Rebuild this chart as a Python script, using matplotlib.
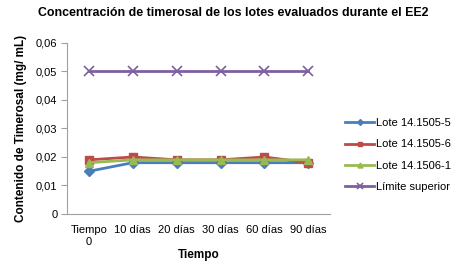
import matplotlib
matplotlib.use("Agg")
from matplotlib import pyplot as plt

plt.rcParams['font.family'] = ['Liberation Sans', 'DejaVu Sans']

categories = ["Tiempo\n0", "10 días", "20 días", "30 días", "60 días", "90 días"]
lote_5 = [0.015, 0.018, 0.018, 0.018, 0.018, 0.018]
lote_6 = [0.019, 0.020, 0.019, 0.019, 0.020, 0.018]
lote_1 = [0.018, 0.019, 0.019, 0.019, 0.019, 0.019]
limite = [0.05, 0.05, 0.05, 0.05, 0.05, 0.05]
y_ticks = [0, 0.01, 0.02, 0.03, 0.04, 0.05, 0.06]
y_labels = ["0", "0,01", "0,02", "0,03", "0,04", "0,05", "0,06"]

fig = plt.figure(figsize=(4.67, 2.67), dpi=100)
ax = fig.add_axes([0.1435, 0.1985, 0.5635, 0.6405])

x = range(len(categories))
ax.plot(x, lote_5, color='#4A7EBB', marker='D', markersize=5, lw=2, label='Lote 14.1505-5')
ax.plot(x, lote_6, color='#BE4B48', marker='s', markersize=6, lw=2, label='Lote 14.1505-6')
ax.plot(x, lote_1, color='#98B954', marker='^', markersize=6, lw=2, label='Lote 14.1506-1')
ax.plot(x, limite, color='#7D60A0', marker='x', markersize=7, mew=1.2, lw=2, label='Límite superior')

ax.set_xlim(-0.5, len(categories) - 0.5)
ax.set_ylim(0, 0.06)
ax.set_xticks(list(x))
ax.set_xticklabels(categories, fontsize=8)
ax.set_yticks(y_ticks)
ax.set_yticklabels(y_labels, fontsize=8)
ax.tick_params(axis='x', length=0, pad=8)
ax.tick_params(axis='y', length=4, color='#A0A0A0', pad=3)

for side in ['top', 'right']:
    ax.spines[side].set_visible(False)
for side in ['left', 'bottom']:
    ax.spines[side].set_color('#A0A0A0')

ax.set_xlabel('Tiempo', fontsize=8.5, fontweight='bold', labelpad=2)
ax.set_ylabel('Contenido de Timerosal (mg/ mL)', fontsize=8.5, fontweight='bold', labelpad=6)
fig.suptitle('Concentración de timerosal de los lotes evaluados durante el EE2',
             fontsize=8.9, fontweight='bold', x=0.5, y=0.975)

ax.legend(loc='center left', bbox_to_anchor=(1.04, 0.345), frameon=False, fontsize=8,
          handlelength=2.6, handletextpad=0.2, labelspacing=1.0, borderaxespad=0,
          markerscale=0.6)

fig.savefig('out.png', dpi=100)
